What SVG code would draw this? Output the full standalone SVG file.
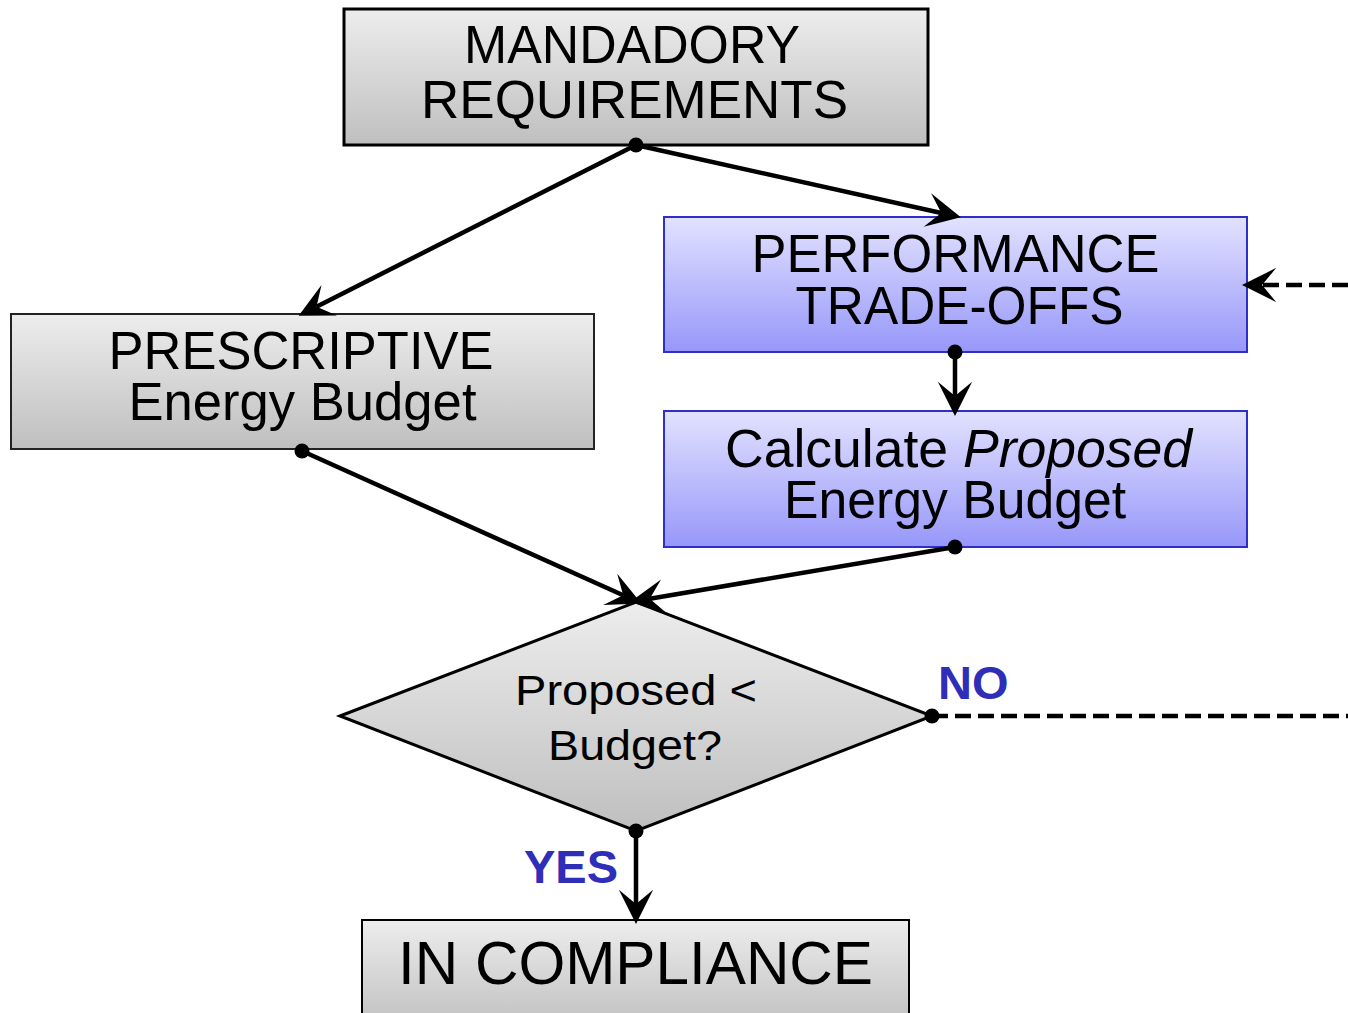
<svg xmlns="http://www.w3.org/2000/svg" width="1348" height="1013" viewBox="0 0 1348 1013">
<defs>
<linearGradient id="gGray" x1="0" y1="0" x2="0" y2="1">
<stop offset="0" stop-color="#ededed"/>
<stop offset="1" stop-color="#bfbfbf"/>
</linearGradient>
<linearGradient id="gBlue" x1="0" y1="0" x2="0" y2="1">
<stop offset="0" stop-color="#e2e2ff"/>
<stop offset="1" stop-color="#9797fa"/>
</linearGradient>
<marker id="arr" markerUnits="userSpaceOnUse" markerWidth="40" markerHeight="40" viewBox="-12 -14 28 28" refX="0" refY="0" orient="auto" overflow="visible">
<path d="M14,0 L-10,-12 L0,0 L-10,12 Z" fill="#000"/>
</marker>
</defs>
<style>
.gray{fill:url(#gGray)}
.blue{fill:url(#gBlue);stroke:#2f2fc8;stroke-width:2}
.t{font-family:"Liberation Sans",Arial,sans-serif;fill:#000;text-anchor:middle}
.lbl{font-family:"Liberation Sans",Arial,sans-serif;font-weight:bold;fill:#2e2eb8;font-size:47px}
.c{stroke:#000;stroke-width:4.5;fill:none}
.d{stroke-dasharray:16 7;stroke-width:4.5}
.dot{fill:#000}
</style>

<g id="mandatory">
<rect x="344" y="9" width="584" height="136" class="gray" stroke="#000" stroke-width="3"/>
<text class="t" x="632" y="63" font-size="53" textLength="336" lengthAdjust="spacingAndGlyphs">MANDADORY</text>
<text class="t" x="634.5" y="118" font-size="53" textLength="427" lengthAdjust="spacingAndGlyphs">REQUIREMENTS</text>
</g>

<g id="performance">
<rect x="664" y="217" width="583" height="135" class="blue"/>
<text class="t" x="955.5" y="272" font-size="53" textLength="408" lengthAdjust="spacingAndGlyphs">PERFORMANCE</text>
<text class="t" x="959.5" y="324" font-size="53" textLength="328" lengthAdjust="spacingAndGlyphs">TRADE-OFFS</text>
</g>

<g id="prescriptive">
<rect x="11" y="314" width="583" height="135" class="gray" stroke="#222" stroke-width="2"/>
<text class="t" x="301" y="369" font-size="53" textLength="385" lengthAdjust="spacingAndGlyphs">PRESCRIPTIVE</text>
<text class="t" x="302.5" y="420" font-size="53" textLength="348" lengthAdjust="spacingAndGlyphs">Energy Budget</text>
</g>

<g id="calculate">
<rect x="664" y="411" width="583" height="136" class="blue"/>
<text class="t" x="958.5" y="467" font-size="53" textLength="467" lengthAdjust="spacingAndGlyphs">Calculate <tspan font-style="italic">Proposed</tspan></text>
<text class="t" x="955" y="518" font-size="53" textLength="342" lengthAdjust="spacingAndGlyphs">Energy Budget</text>
</g>

<g id="decision">
<polygon points="340,716 636,602 932,716 636,831" class="gray" stroke="#000" stroke-width="3" stroke-linejoin="miter"/>
<text class="t" x="636" y="705" font-size="42" textLength="242" lengthAdjust="spacingAndGlyphs">Proposed &lt;</text>
<text class="t" x="635" y="760" font-size="42" textLength="174" lengthAdjust="spacingAndGlyphs">Budget?</text>
</g>

<g id="compliance">
<rect x="362" y="920" width="547" height="110" class="gray" stroke="#000" stroke-width="2"/>
<text class="t" x="635.5" y="984" font-size="61" textLength="475" lengthAdjust="spacingAndGlyphs">IN COMPLIANCE</text>
</g>

<g id="connectors">
<line class="c" x1="636" y1="145" x2="316.5" y2="306.7" marker-end="url(#arr)"/>
<line class="c" x1="636" y1="145" x2="941.3" y2="213" marker-end="url(#arr)"/>
<line class="c" x1="955" y1="352" x2="955" y2="396" marker-end="url(#arr)"/>
<line class="c" x1="302" y1="451" x2="623.2" y2="595.3" marker-end="url(#arr)"/>
<line class="c" x1="955" y1="547" x2="649.8" y2="598.7" marker-end="url(#arr)"/>
<line class="c" x1="636" y1="831" x2="636" y2="904" marker-end="url(#arr)"/>
<line class="c d" x1="932" y1="716" x2="1348" y2="716"/>
<line class="c d" x1="1348" y1="285" x2="1262" y2="285" marker-end="url(#arr)"/>
<circle class="dot" cx="636" cy="145" r="7.5"/>
<circle class="dot" cx="955" cy="352" r="7.5"/>
<circle class="dot" cx="302" cy="451" r="7.5"/>
<circle class="dot" cx="955" cy="547" r="7.5"/>
<circle class="dot" cx="932" cy="716" r="7.5"/>
<circle class="dot" cx="636" cy="831" r="7.5"/>
<text class="lbl" x="938" y="699">NO</text>
<text class="lbl" x="524" y="883">YES</text>
</g>
</svg>
